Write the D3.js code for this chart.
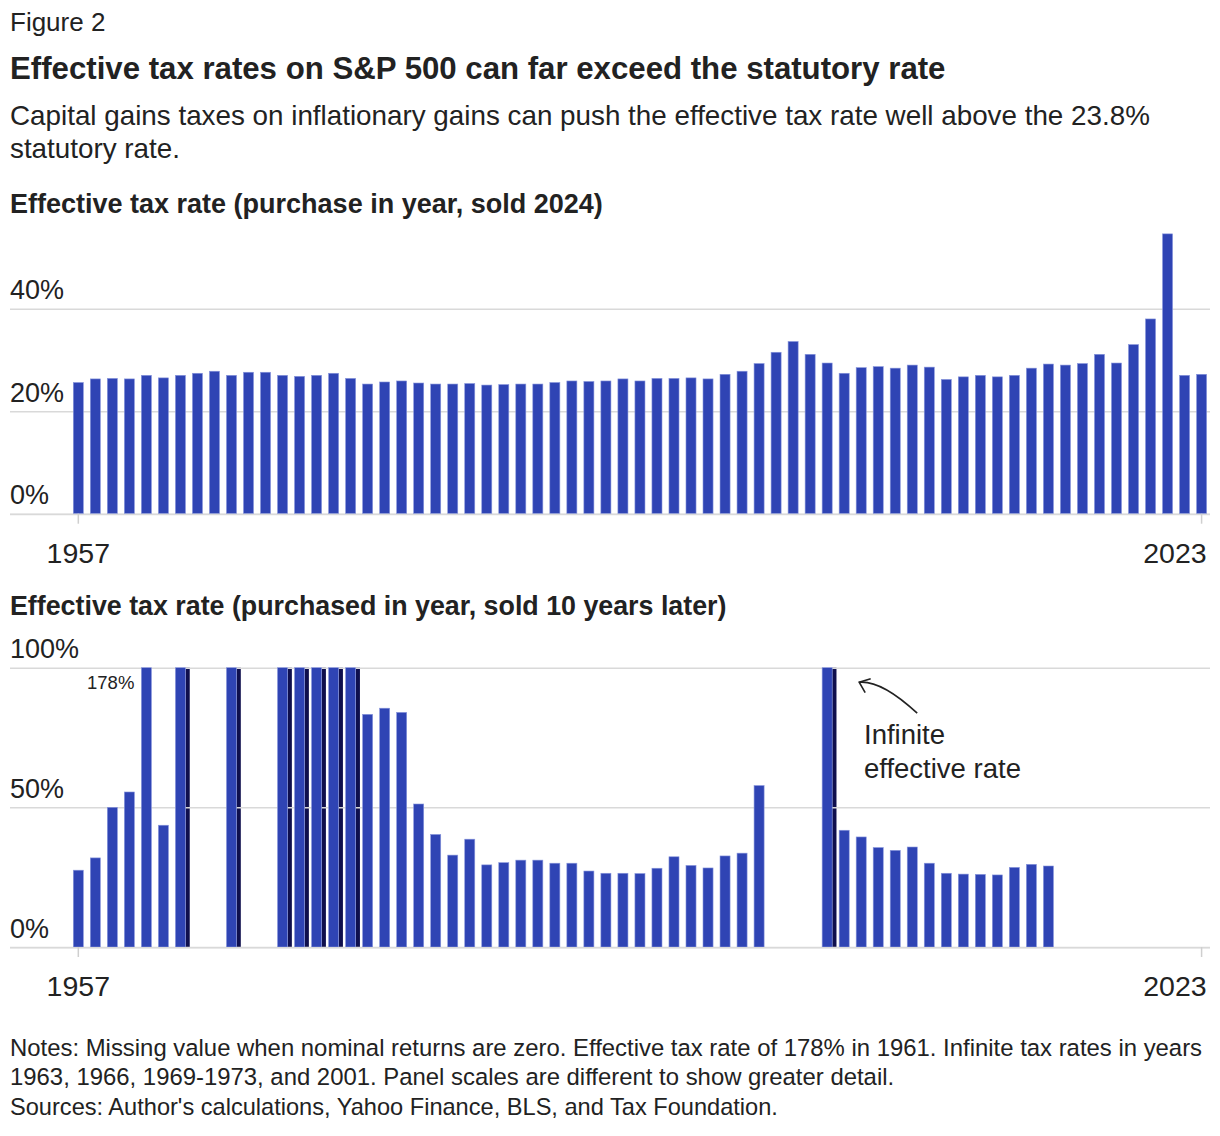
<!DOCTYPE html>
<html>
<head>
<meta charset="utf-8">
<script src="https://cdn.jsdelivr.net/npm/d3@7"></script>
<style>
  body { margin: 0; background: #fff; }
  svg { font-family: "Liberation Sans", Arial, sans-serif; }
</style>
</head>
<body>
<div class="chart"></div>
<script>
// years 1957..2023
var years = d3.range(1957, 2024);

// effective tax rate, purchased in year, sold 2024 (%)
var soldIn2024 = [25.6, 26.3, 26.4, 26.3, 27.0, 26.5, 27.0, 27.4, 27.8, 27.0,
  27.6, 27.6, 27.0, 26.8, 27.0, 27.4, 26.4, 25.3, 25.7, 25.9,
  25.5, 25.3, 25.3, 25.4, 25.1, 25.2, 25.3, 25.3, 25.6, 25.9,
  25.8, 25.9, 26.3, 25.9, 26.4, 26.4, 26.5, 26.3, 27.2, 27.8,
  29.3, 31.5, 33.6, 31.1, 29.4, 27.4, 28.5, 28.7, 28.4, 29.0,
  28.6, 26.2, 26.7, 27.0, 26.7, 27.0, 28.4, 29.2, 29.0, 29.3,
  31.1, 29.4, 33.0, 38.0, 54.6, 27.0, 27.2];

// effective tax rate, sold 10 years later (%): null = missing, Infinity = infinite
var sold10Later = [27.5, 31.9, 50.0, 55.5, 178, 43.6, Infinity, null, null, Infinity,
  null, null, Infinity, Infinity, Infinity, Infinity, Infinity, 83.3, 85.5, 84.0,
  51.2, 40.3, 32.9, 38.6, 29.4, 30.2, 31.1, 31.1, 30.0, 30.0,
  27.2, 26.4, 26.4, 26.3, 28.2, 32.3, 29.2, 28.3, 32.6, 33.6,
  57.8, null, null, null, Infinity, 41.8, 39.4, 35.6, 34.6, 35.8,
  30.0, 26.4, 26.1, 26.0, 25.8, 28.5, 29.6, 29.0, null, null,
  null, null, null, null, null, null, null];

var topTicks = [0, 20, 40];
var bottomTicks = [0, 50, 100];
var yearTicks = [1957, 2023];

var svgWidth = 1220;
var svgHeight = 1136;

var barColor = "#2f44b4";
var infColor = "#0f0f4d";
var gridColor = "#d9d9d9";
var textColor = "#222";

var svg = d3.select(".chart")
  .append("svg")
  .attr("width", svgWidth)
  .attr("height", svgHeight);

// header text
function addText(x, y, size, weight, str) {
  return svg.append("text")
    .attr("x", x)
    .attr("y", y)
    .attr("font-size", size)
    .attr("font-weight", weight)
    .attr("fill", textColor)
    .text(str);
}
addText(10, 31, 26, "normal", "Figure 2");
addText(10, 79, 31.2, "bold", "Effective tax rates on S&P 500 can far exceed the statutory rate");
addText(10, 125, 27.8, "normal", "Capital gains taxes on inflationary gains can push the effective tax rate well above the 23.8%");
addText(10, 158, 27.8, "normal", "statutory rate.");
addText(10, 213, 27, "bold", "Effective tax rate (purchase in year, sold 2024)");
addText(10, 615, 26.8, "bold", "Effective tax rate (purchased in year, sold 10 years later)");
addText(10, 1056, 23.9, "normal", "Notes: Missing value when nominal returns are zero. Effective tax rate of 178% in 1961. Infinite tax rates in years");
addText(10, 1085, 23.9, "normal", "1963, 1966, 1969-1973, and 2001. Panel scales are different to show greater detail.");
addText(10, 1115, 23.6, "normal", "Sources: Author's calculations, Yahoo Finance, BLS, and Tax Foundation.");

// shared x scale
var xBand = d3.scaleBand()
  .domain(years)
  .range([69.8, 1210.1])
  .paddingInner(0.41)
  .paddingOuter(0.205);
var bw = xBand.bandwidth();

function drawGrid(yScale, ticks) {
  var g = svg.append("g")
    .attr("transform", "translate(10,0)")
    .call(d3.axisRight(yScale).tickValues(ticks).tickSize(1200).tickFormat(d => d + "%"));
  g.select(".domain").remove();
  g.selectAll("line").attr("stroke", gridColor).attr("stroke-width", 1.5);
  g.selectAll("text")
    .attr("x", 0)
    .attr("dy", -10)
    .attr("text-anchor", "start")
    .attr("font-size", 27)
    .attr("font-family", "Liberation Sans, Arial, sans-serif")
    .attr("fill", textColor);
  return g;
}

function drawYears(yScale) {
  var g = svg.append("g")
    .attr("transform", `translate(0, ${yScale(0)})`)
    .call(d3.axisBottom(xBand).tickValues(yearTicks).tickSize(10).tickSizeOuter(0).tickPadding(19));
  g.select(".domain").remove();
  g.selectAll("line").attr("stroke", "#cfcfcf").attr("stroke-width", 1.5);
  g.selectAll("text")
    .attr("font-size", 28.5)
    .attr("font-family", "Liberation Sans, Arial, sans-serif")
    .attr("fill", textColor);
  g.selectAll("text").filter(d => d === 2023)
    .attr("text-anchor", "end")
    .attr("x", 5);
}

function drawBaseline(yScale) {
  svg.append("line")
    .attr("x1", 10).attr("x2", 1210)
    .attr("y1", yScale(0) + 0.75).attr("y2", yScale(0) + 0.75)
    .attr("stroke", gridColor)
    .attr("stroke-width", 1.5);
}

// ---- top panel ----
var yTop = d3.scaleLinear().domain([0, 40]).range([513.7, 308.7]);
drawGrid(yTop, topTicks);

svg.append("g").selectAll("rect")
  .data(years)
  .enter()
  .append("rect")
  .attr("x", (d, i) => xBand(d))
  .attr("width", bw)
  .attr("y", (d, i) => yTop(soldIn2024[i]))
  .attr("height", (d, i) => yTop(0) - yTop(soldIn2024[i]))
  .attr("fill", barColor)
  .attr("stroke", "#8896dc")
  .attr("stroke-width", 0.6);

drawBaseline(yTop);
drawYears(yTop);

// ---- bottom panel ----
var yBot = d3.scaleLinear().domain([0, 100]).range([947, 667.7]).clamp(true);
var botData = years.map((d, i) => ({ year: d, value: sold10Later[i] }))
  .filter(d => d.value !== null);

// dark edge behind infinite bars
svg.append("g").selectAll("rect")
  .data(botData.filter(d => d.value === Infinity))
  .enter()
  .append("rect")
  .attr("x", d => xBand(d.year) + bw)
  .attr("width", 4.3)
  .attr("y", yBot(100))
  .attr("height", yBot(0) - yBot(100))
  .attr("fill", infColor);

drawGrid(yBot, bottomTicks);

svg.append("g").selectAll("rect")
  .data(botData)
  .enter()
  .append("rect")
  .attr("x", d => xBand(d.year))
  .attr("width", bw)
  .attr("y", d => yBot(d.value))
  .attr("height", d => yBot(0) - yBot(d.value))
  .attr("fill", barColor)
  .attr("stroke", "#8896dc")
  .attr("stroke-width", 0.6);

drawBaseline(yBot);
drawYears(yBot);

// 178% label for 1961
svg.append("text")
  .attr("x", xBand(1961) - 7)
  .attr("y", yBot(100) + 21)
  .attr("text-anchor", "end")
  .attr("font-size", 18.5)
  .attr("fill", textColor)
  .text("178%");

// infinite annotation
var ax = xBand(2001) + bw;
var tipX = ax + 27, tipY = yBot(100) + 14.5;
var p = d3.path();
p.moveTo(ax + 85, yBot(100) + 45.5);
p.quadraticCurveTo(ax + 49.5, yBot(100) + 12.5, tipX, tipY);
svg.append("path")
  .attr("d", p.toString())
  .attr("fill", "none")
  .attr("stroke", textColor)
  .attr("stroke-width", 1.6);
svg.append("path")
  .attr("d", `M${tipX + 11.5},${tipY - 3.5} L${tipX},${tipY} L${tipX + 6},${tipY + 10.5}`)
  .attr("fill", "none")
  .attr("stroke", textColor)
  .attr("stroke-width", 1.6);

addText(864, 744, 27.5, "normal", "Infinite");
addText(864, 778, 27.5, "normal", "effective rate");
</script>
</body>
</html>
